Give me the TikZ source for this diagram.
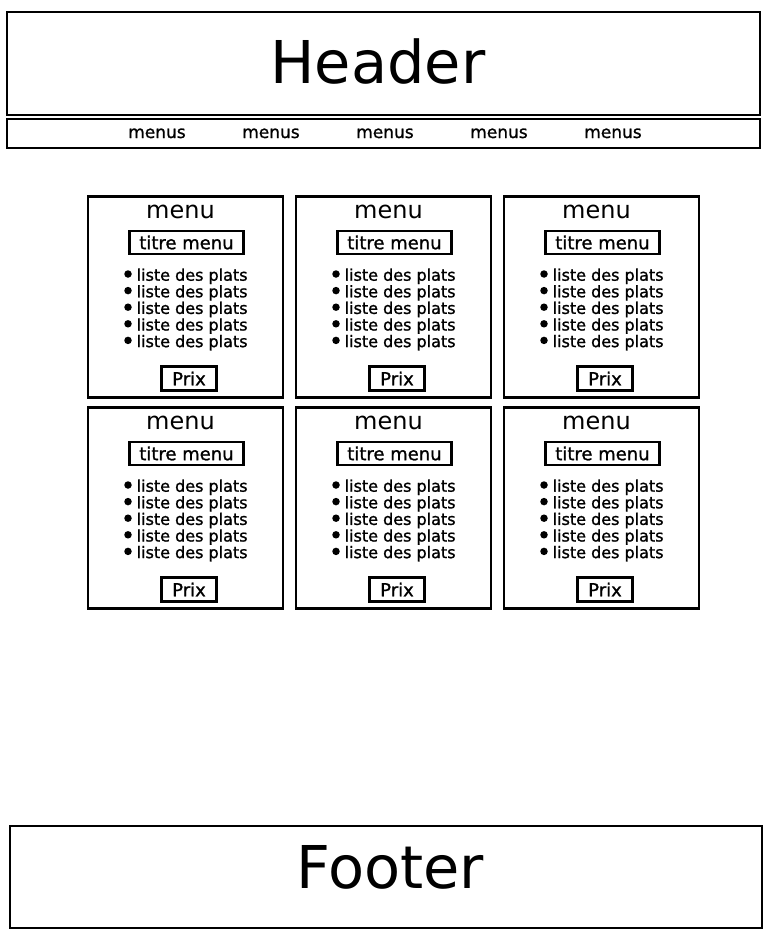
\documentclass[tikz,border=0pt]{standalone}
\usepackage{fontspec}
\setmainfont{DejaVu Sans}
\newfontfamily\heavyfont[FakeBold=1.2]{DejaVu Sans}
\usetikzlibrary{positioning}

\begin{document}
\begin{tikzpicture}[
  x=1pt, y=-1pt,
  frame/.style={draw, line width=2.8pt, inner sep=0pt},
  card/.style={frame, minimum width=195pt, minimum height=201pt},
  tag/.style={frame, font=\heavyfont\fontsize{18}{18}\selectfont},
  big/.style={font=\fontsize{59}{59}\selectfont, anchor=base},
  navitem/.style={font=\heavyfont\fontsize{17}{17}\selectfont, anchor=base},
  dish/.style={font=\heavyfont\fontsize{16}{16}\selectfont, anchor=base west, inner sep=0pt},
  dot/.style={circle, fill, minimum size=7.5pt, inner sep=0pt}
]
\useasboundingbox (0,0) rectangle (768,950);

% header and navigation bar
\node[frame, minimum width=753pt, minimum height=103pt] (header) at (383.5,63.5) {};
\node[big] (headertxt) at (378,83) {Header};
\node[frame, minimum width=753pt, minimum height=29pt] (nav) at (383.5,133.5) {};
\foreach \x [count=\i] in {157,271,385,499,613}
  \node[navitem] (nav\i) at (\x,138) {menus};

% menu cards
\foreach \col/\cx in {1/86.5,2/294.5,3/502.5}
  \foreach \row/\cy in {1/195,2/406} {
    \node[card, anchor=north west] (card\row\col) at (\cx,\cy) {};
    \node[font=\fontsize{24}{24}\selectfont, anchor=base] (title\row\col)
      at ([shift={(94,23)}]card\row\col.north west) {menu};
    \node[tag, minimum width=114pt, minimum height=23pt] (name\row\col)
      at ([shift={(100,47.5)}]card\row\col.north west) {titre menu};
    \foreach \k in {0,...,4} {
      \node[dish] (dish\row\col\k)
        at ([shift={(50,{85.7+16.6*\k})}]card\row\col.north west) {liste des plats};
      \node[dot] (dot\row\col\k)
        at ([shift={(41.5,{79+16.6*\k})}]card\row\col.north west) {};
    }
    \node[tag, minimum width=55pt, minimum height=24pt] (price\row\col)
      at ([shift={(102.5,183.5)}]card\row\col.north west) {Prix};
  }

% footer
\node[frame, minimum width=752pt, minimum height=102pt] (footer) at (386,877) {};
\node[big] (footertxt) at (390,888) {Footer};
\end{tikzpicture}
\end{document}
